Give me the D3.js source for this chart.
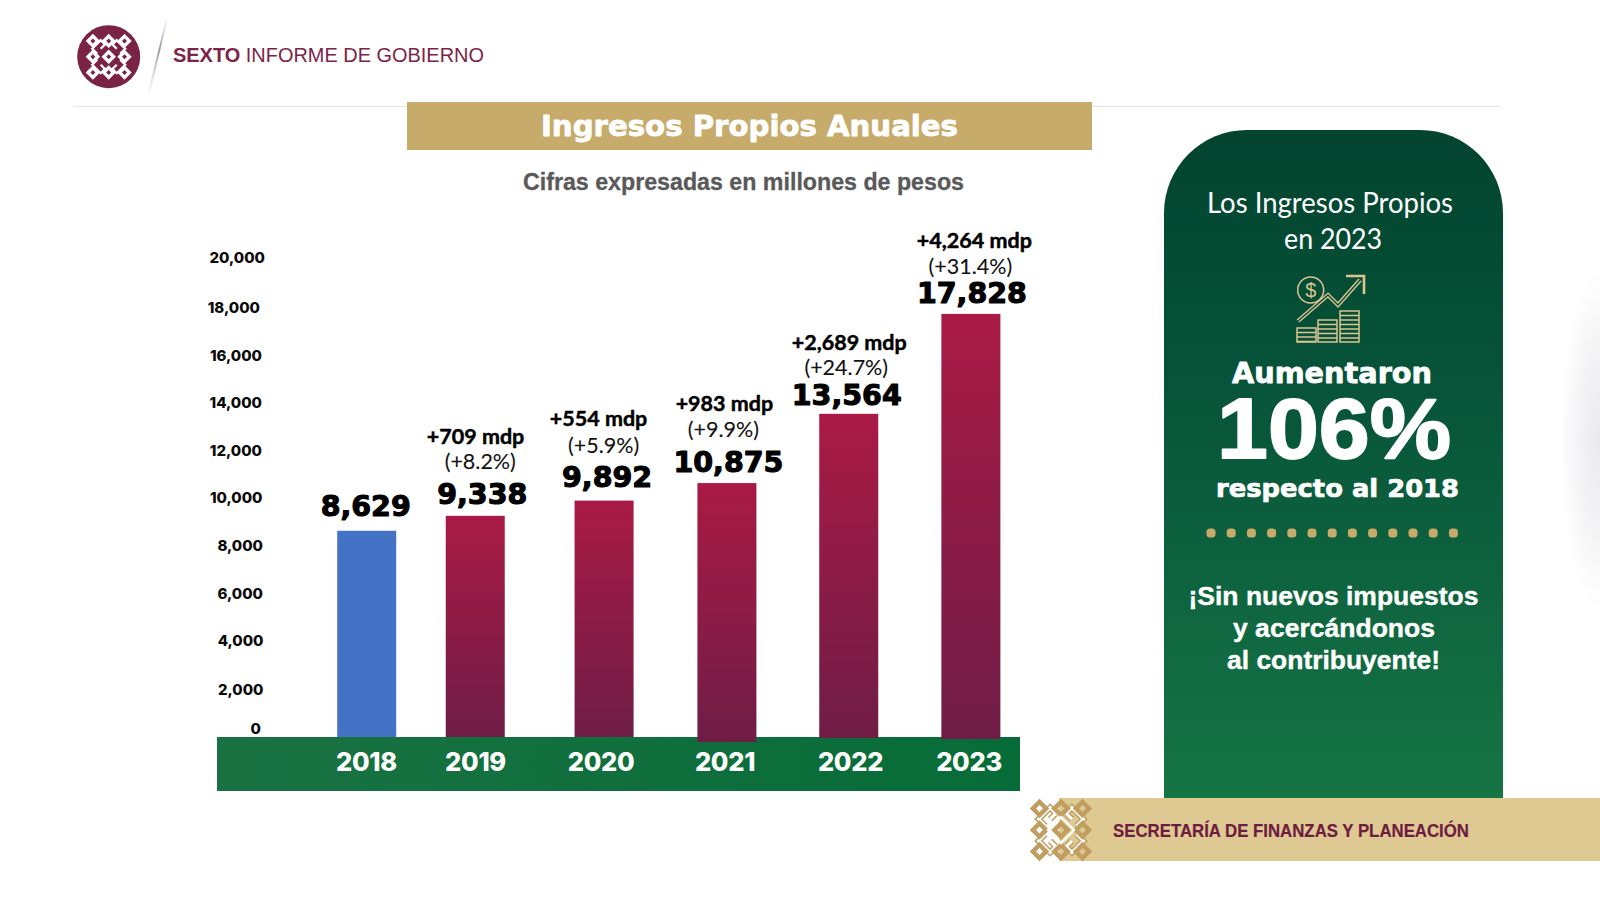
<!DOCTYPE html>
<html><head><meta charset="utf-8">
<script src="https://cdn.jsdelivr.net/npm/d3@7"></script>
<style>html,body{margin:0;padding:0;background:#fff}svg{display:block}</style>
</head><body><svg id="c" width="1600" height="900"></svg>
<script>
const years = ["2018","2019","2020","2021","2022","2023"];
const values = [8629,9338,9892,10875,13564,17828];
const deltaMdp = ["","+709 mdp","+554 mdp","+983 mdp","+2,689 mdp","+4,264 mdp"];
const deltaPct = ["","(+8.2%)","(+5.9%)","(+9.9%)","(+24.7%)","(+31.4%)"];
const yTicks = [0,2000,4000,6000,8000,10000,12000,14000,16000,18000,20000];

const svg = d3.select("#c");
const defs = svg.append("defs");
function grad(id,stops,x2,y2){
  const g = defs.append("linearGradient").attr("id",id).attr("gradientUnits","objectBoundingBox")
    .attr("x1",0).attr("y1",0).attr("x2",x2).attr("y2",y2);
  stops.forEach(s=>g.append("stop").attr("offset",s[0]).attr("stop-color",s[1]).attr("stop-opacity",s[2]===undefined?1:s[2]));
}
grad("barG",[[0,"#a91a45"],[1,"#6f1d46"]],0,1);
grad("bandG",[[0,"#1a7243"],[1,"#066c37"]],1,0);
grad("panelG",[[0,"#03442f"],[0.35,"#065239"],[1,"#167545"]],0,1);
grad("slashG",[[0,"#8a8f98",0],[0.4,"#8a8f98",0.9],[1,"#c9ccd2",0]],0,1);
const edge = defs.append("radialGradient").attr("id","edgeG");
[[0,0.8],[0.5,0.45],[1,0]].forEach(s=>edge.append("stop").attr("offset",s[0]).attr("stop-color","#e4e4e8").attr("stop-opacity",s[1]));

function txt(o){
  const t = svg.append("text").attr("x",o.x).attr("y",o.y).text(o.t)
    .attr("font-family",o.f||"'Liberation Sans'").attr("font-size",o.s)
    .attr("font-weight",o.w||400).attr("fill",o.c||"#000")
    .attr("text-anchor",o.a||"middle");
  if(o.len){t.attr("textLength",o.len).attr("lengthAdjust","spacingAndGlyphs");}
  if(o.sw){t.attr("stroke",o.c||"#000").attr("stroke-width",o.sw).attr("stroke-linejoin","round");}
  return t;
}
function ornament(cx,cy,u,fill,knot,outline){
  const g = svg.append("g").attr("transform",`translate(${cx},${cy}) scale(${u})`);
  const st = 15.8, R = 7.2, r = 2.5;
  [[1,1],[1,-1],[-1,1],[-1,-1]].forEach(q=>{
    const p = [[3,11.5],[8,16.5],[16.5,8],[11.5,3]].map(a=>[a[0]*q[0],a[1]*q[1]]);
    const p2 = [[8,8],[4,12]].map(a=>[a[0]*q[0],a[1]*q[1]]);
    [p,p2].forEach(pp=>{
      if(outline) g.append("path").attr("d",d3.line()(pp)).attr("fill","none").attr("stroke",outline).attr("stroke-width",4.6);
    });
    [p,p2].forEach(pp=>{
      g.append("path").attr("d",d3.line()(pp)).attr("fill","none").attr("stroke",knot).attr("stroke-width",2.3);
    });
  });
  d3.range(-1,2).forEach(i=>d3.range(-1,2).forEach(j=>{
    const x=i*st,y=j*st;
    g.append("path").attr("fill",fill).attr("fill-rule","evenodd")
     .attr("d",`M${x},${y-R}L${x+R},${y}L${x},${y+R}L${x-R},${y}Z M${x},${y-r}L${x+r},${y}L${x},${y+r}L${x-r},${y}Z`);
  }));
}

/* header */
svg.append("circle").attr("cx",108.7).attr("cy",56.7).attr("r",31.5).attr("fill","#7a2345");
ornament(108.7,56.7,1,"#fff","#fff");
svg.append("path").attr("d","M166.5,17L146.5,98L149,98L168,17Z").attr("fill","url(#slashG)");
svg.append("line").attr("x1",74).attr("x2",1500).attr("y1",106.5).attr("y2",106.5).attr("stroke","#e6e4dc").attr("stroke-width",1.2);
const h = svg.append("text").attr("x",173).attr("y",62).attr("font-family","'Liberation Sans'").attr("font-size",20).attr("fill","#7b2447")
  .attr("textLength",311).attr("lengthAdjust","spacingAndGlyphs");
h.append("tspan").attr("font-weight",700).text("SEXTO");
h.append("tspan").text(" INFORME DE GOBIERNO");

/* title */
svg.append("rect").attr("x",407).attr("y",102).attr("width",685).attr("height",48).attr("fill","#c6ab6a");
txt({x:749.5,y:136,t:"Ingresos Propios Anuales",f:"'DejaVu Sans'",s:29,w:700,c:"#fff",len:417,sw:0.8});
txt({x:743.5,y:190,t:"Cifras expresadas en millones de pesos",s:23,w:700,c:"#595959",len:441,sw:0.3});

/* scales */
const y = d3.scaleLinear([0,20000],[737,259]);
const x = d3.scaleBand(years,[306,1031]).paddingInner(0).paddingOuter(0);
const barW = 59;
const xNudge = [0.3,-12,-4,-2,-1,0.3];
const centre = i => x(years[i])+x.bandwidth()/2+xNudge[i];
const topDrop = [0,2,0,6,1,3];
const bottomDrop = [0,0,0,5,1,2];

/* band */
svg.append("rect").attr("x",217).attr("y",737).attr("width",803).attr("height",54).attr("fill","url(#bandG)");

/* bars */
svg.append("g").selectAll("rect").data(values).join("rect")
  .attr("x",(d,i)=>centre(i)-barW/2).attr("width",barW)
  .attr("y",(d,i)=>y(d)+topDrop[i]).attr("height",(d,i)=>y(0)+bottomDrop[i]-y(d)-topDrop[i])
  .attr("fill",(d,i)=>i===0?"#4472c4":"url(#barG)");

/* y axis */
const yAxis = svg.append("g").attr("transform","translate(264,0)")
  .call(d3.axisLeft(y).tickValues(yTicks).tickSize(0).tickPadding(0).tickFormat(d3.format(",")));
yAxis.select(".domain").remove();
const yTickDx = {20000:1,18000:-4,16000:-2,14000:-2,12000:-2,10000:-1.5,8000:-1,6000:-1,4000:-0.5,2000:-0.5,0:-3};
const yTickDy = {20000:-2,0:-9.5,10000:-1,8000:-1,6000:-1,4000:-1};
yAxis.selectAll("text").attr("font-family","Inter").attr("font-size",15).attr("font-weight",800).attr("fill","#0a0a0a")
  .attr("dx",d=>yTickDx[d]||0).attr("dy",d=>(yTickDy[d]||0)+5.5);

/* x axis labels */
const xPos = d3.scaleOrdinal(years,[366,475,600.5,724.5,850,968.5]);
const xAxis = svg.append("g").attr("transform","translate(0,771)")
  .call(d3.axisBottom(xPos).tickSize(0).tickPadding(0));
xAxis.select(".domain").remove();
xAxis.selectAll("text").attr("y",0).attr("dy",0).attr("font-family","Inter").attr("font-size",25.5).attr("font-weight",800).attr("fill","#fff").attr("letter-spacing",-0.3);

/* value labels */
const valueGap = [14.8,12,13.6,11,9,11];
const valueDx = [-1,7,3,1.5,-2,1];
const mdpUp = [0,60,61,61,55,55], mdpDx = [0,0.3,-5.5,-2.5,0.5,3.5];
const pctUp = [0,35,34,35,30,29], pctDx = [0,5,-0.5,-3.5,-2.5,-0.5];
const fmt = d3.format(",");
values.forEach((v,i)=>{
  const base = y(v)+topDrop[i]-valueGap[i];
  txt({x:centre(i)+valueDx[i],y:base,t:fmt(v),f:"'DejaVu Sans'",s:28.5,w:700,c:"#000",sw:1.1});
  if(deltaMdp[i]){
    txt({x:centre(i)+mdpDx[i],y:base-mdpUp[i],t:deltaMdp[i],f:"Lato",s:21.5,w:700,c:"#000",sw:0.45});
    txt({x:centre(i)+pctDx[i],y:base-pctUp[i],t:deltaPct[i],f:"Lato",s:21.5,w:400,c:"#111",sw:0.1});
  }
});

/* right panel */
svg.append("path").attr("d","M1164,799V213A83,83 0 0 1 1247,130H1420A83,83 0 0 1 1503,213V799Z").attr("fill","url(#panelG)");
txt({x:1330,y:213,t:"Los Ingresos Propios",f:"Lato",s:28,c:"#fff",len:246});
txt({x:1333,y:249,t:"en 2023",f:"Lato",s:28,c:"#fff",len:98});

/* icon */
const gold = "#dcc590";
const ic = svg.append("g").attr("fill","none").attr("stroke",gold).attr("stroke-width",1.5);
ic.append("circle").attr("cx",1310.7).attr("cy",290).attr("r",13);
const arrowD = "M1298,321L1328,295L1338,305L1360,280";
ic.append("path").attr("d",arrowD).attr("stroke-width",4.2);
ic.append("path").attr("d",arrowD).attr("stroke","#064b36").attr("stroke-width",1.4);
ic.append("path").attr("d","M1346,276H1364V294").attr("stroke-width",2.6);
[[1297,328,19,14],[1318,320,19,22],[1340,311,19,31]].forEach(b=>{
  ic.append("rect").attr("x",b[0]).attr("y",b[1]).attr("width",b[2]).attr("height",b[3]);
  d3.range(b[1]+4.5,b[1]+b[3],4.5).forEach(yy=>ic.append("line").attr("x1",b[0]).attr("x2",b[0]+b[2]).attr("y1",yy).attr("y2",yy));
});
txt({x:1310.7,y:297,t:"$",s:20,c:gold});

txt({x:1332,y:383,t:"Aumentaron",f:"'DejaVu Sans'",s:28.7,w:700,c:"#fff",len:200,sw:0.8});
txt({x:1334,y:458,t:"106%",s:85,w:700,c:"#fff",len:234,sw:1.8});
txt({x:1337.5,y:497,t:"respecto al 2018",f:"'DejaVu Sans'",s:25,w:700,c:"#fff",len:243,sw:0.7});

svg.append("g").selectAll("rect").data(d3.range(13)).join("rect")
  .attr("x",d=>1206.5+d*20.2).attr("y",528.5).attr("width",9).attr("height",9).attr("rx",3.5).attr("fill","#c6ab6a");

txt({x:1333.5,y:605,t:"¡Sin nuevos impuestos",s:26.5,w:700,c:"#fff",len:290,sw:0.4});
txt({x:1334,y:637,t:"y acercándonos",s:26.5,w:700,c:"#fff",len:202,sw:0.4});
txt({x:1333.5,y:669,t:"al contribuyente!",s:26.5,w:700,c:"#fff",len:213,sw:0.4});

/* footer */
svg.append("rect").attr("x",1059).attr("y",798).attr("width",541).attr("height",63).attr("fill","#dfc993");
ornament(1061,830,1.36,"#c09e60","#fff","#c09e60");
svg.append("path").attr("d","M1061,817L1074,830L1061,843L1048,830Z").attr("fill","none").attr("stroke","#fff").attr("stroke-width",2.4);
txt({x:1113,y:837,t:"SECRETARÍA DE FINANZAS Y PLANEACIÓN",a:"start",s:18,w:700,c:"#6e1c40",len:356,sw:0.2});

svg.append("rect").attr("x",1560).attr("y",270).attr("width",80).attr("height",340).attr("fill","url(#edgeG)");
</script></body></html>
